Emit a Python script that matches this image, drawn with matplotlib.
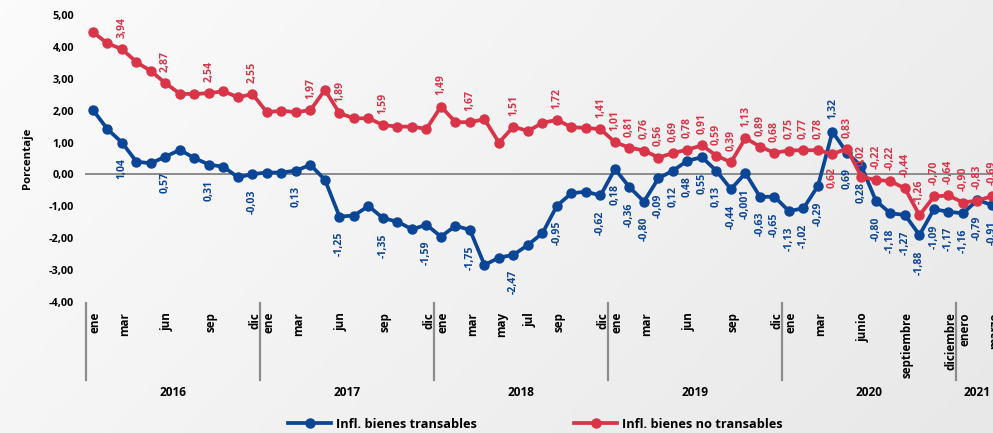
import numpy as np
import matplotlib

matplotlib.use("Agg")
import matplotlib.pyplot as plt
from matplotlib.lines import Line2D
import matplotlib.transforms as mtransforms

plt.rcParams["font.family"] = ["Open Sans", "DejaVu Sans"]

# monthly series, ene 2016 .. mar 2021
transables = [
    2.02, 1.42, 1.00, 0.40, 0.35, 0.56, 0.77, 0.51, 0.31, 0.24, -0.09, 0.01,
    0.06, 0.06, 0.12, 0.30, -0.17, -1.32, -1.29, -0.99, -1.37, -1.48, -1.72, -1.58,
    -1.95, -1.61, -1.74, -2.84, -2.61, -2.52, -2.21, -1.84, -0.98, -0.59, -0.54, -0.66,
    0.17, -0.40, -0.85, -0.12, 0.12, 0.43, 0.54, 0.11, -0.46, 0.04, -0.70, -0.70,
    -1.15, -1.06, -0.36, 1.34, 0.68, 0.25, -0.83, -1.22, -1.27, -1.90, -1.09, -1.17,
    -1.22, -0.80, -0.96,
]
no_transables = [
    4.46, 4.11, 3.93, 3.52, 3.24, 2.86, 2.53, 2.52, 2.55, 2.61, 2.42, 2.52,
    1.95, 2.00, 1.95, 2.02, 2.65, 1.92, 1.76, 1.76, 1.55, 1.50, 1.50, 1.43,
    2.13, 1.64, 1.64, 1.73, 1.00, 1.50, 1.36, 1.62, 1.71, 1.48, 1.46, 1.42,
    1.01, 0.84, 0.75, 0.53, 0.67, 0.78, 0.91, 0.59, 0.38, 1.14, 0.87, 0.68,
    0.75, 0.76, 0.76, 0.64, 0.81, -0.08, -0.17, -0.21, -0.44, -1.28, -0.69, -0.66,
    -0.88, -0.82, -0.68,
]

lbl_transables = [
    "", "", "1,04", "", "", "0,57", "", "", "0,31", "", "", "-0,03",
    "", "", "0,13", "", "", "-1,25", "", "", "-1,35", "", "", "-1,59",
    "", "", "-1,75", "", "", "-2,47", "", "", "-0,95", "", "", "-0,62",
    "0,18", "-0,36", "-0,80", "-0,09", "0,12", "0,48", "0,55", "0,13", "-0,44", "-0,001", "-0,63", "-0,65",
    "-1,13", "-1,02", "-0,29", "1,32", "0,69", "0,28", "-0,80", "-1,18", "-1,27", "-1,88", "-1,09", "-1,17",
    "-1,16", "-0,79", "-0,91",
]
lbl_no_transables = [
    "", "", "3,94", "", "", "2,87", "", "", "2,54", "", "", "2,55",
    "", "", "", "1,97", "", "1,89", "", "", "1,59", "", "", "",
    "1,49", "", "1,67", "", "", "1,51", "", "", "1,72", "", "", "1,41",
    "1,01", "0,81", "0,76", "0,56", "0,69", "0,78", "0,91", "0,59", "0,39", "1,13", "0,89", "0,68",
    "0,75", "0,77", "0,78", "0,62", "0,83", "0,02", "-0,22", "-0,22", "-0,44", "-1,26", "-0,70", "-0,64",
    "-0,90", "-0,83", "-0,69",
]
# points whose label sits on the other side
flip_idx = [51]

tick_idx = [0, 2, 5, 8, 11, 12, 14, 17, 20, 23, 24, 26, 28, 30, 32, 35,
            36, 38, 41, 44, 47, 48, 50, 53, 56, 59, 60, 62]
tick_lbl = ["ene", "mar", "jun", "sep", "dic", "ene", "mar", "jun", "sep", "dic",
            "ene", "mar", "may", "jul", "sep", "dic", "ene", "mar", "jun", "sep", "dic",
            "ene", "mar", "junio", "septiembre", "diciembre", "enero", "marzo"]
years = ["2016", "2017", "2018", "2019", "2020", "2021"]
year_start = [0, 12, 24, 36, 48, 60]
year_len = [12, 12, 12, 12, 12, 3]

BLUE = "#0b4596"
RED = "#da3448"
GRAY = "#8c8c8c"

fig = plt.figure(figsize=(9.93, 4.33), dpi=100)

# soft light-gray gradient background (lighter top-left)
bg = fig.add_axes([0, 0, 1, 1], zorder=-10)
gx, gy = np.meshgrid(np.linspace(0, 1, 200), np.linspace(0, 1, 100))
shade = 0.985 - 0.075 * (0.7 * gx + 0.3 * gy)
bg.imshow(np.dstack([shade] * 3), aspect="auto", extent=[0, 1, 0, 1])
bg.axis("off")

ax = fig.add_axes([85 / 993, 131 / 433, 908 / 993, 287 / 433])
ax.patch.set_alpha(0)
x = np.arange(len(transables))

ax.axhline(0, color=GRAY, lw=1.4, zorder=1)
ax.plot(x, transables, color=BLUE, lw=2.7, marker="o", ms=6.5, zorder=3, clip_on=False)
ax.plot(x, no_transables, color=RED, lw=2.7, marker="o", ms=6.5, zorder=4, clip_on=False)

for i, (v, t) in enumerate(zip(transables, lbl_transables)):
    if not t:
        continue
    up = i in flip_idx
    ax.annotate(t, (i, v), xytext=(0, 9 if up else -11), textcoords="offset points",
                rotation=90, ha="center", va="bottom" if up else "top",
                fontsize=7.6, color=BLUE, fontweight="bold")
for i, (v, t) in enumerate(zip(no_transables, lbl_no_transables)):
    if not t:
        continue
    down = i in flip_idx
    ax.annotate(t, (i, v), xytext=(0, -9 if down else 8), textcoords="offset points",
                rotation=90, ha="center", va="top" if down else "bottom",
                fontsize=7.6, color=RED, fontweight="bold")

ax.set_xlim(-0.55, 62.07)
ax.set_ylim(-4, 5)
ax.set_yticks(range(-4, 6))
ax.set_yticklabels([f"{v:.2f}".replace(".", ",") for v in range(-4, 6)],
                   fontsize=7.8, fontweight="bold")
ax.tick_params(axis="y", length=0, pad=8)
ax.set_xticks([])
for s in ax.spines.values():
    s.set_visible(False)
ax.set_ylabel("Porcentaje", fontsize=8.2, fontweight="bold", labelpad=11)

# two-level category axis
trans = mtransforms.blended_transform_factory(ax.transData, ax.transAxes)
for i, t in zip(tick_idx, tick_lbl):
    ax.text(i + 0.15, -0.035, t, transform=trans, rotation=90, ha="center", va="top",
            fontsize=8.4, fontweight="bold", clip_on=False)
for s, n, y in zip(year_start, year_len, years):
    ax.add_line(Line2D([s - 0.5, s - 0.5], [-0.003, -0.272], transform=trans,
                       color=GRAY, lw=1.6, clip_on=False))
    ax.text(s + (n - 1) / 2, -0.314, y, transform=trans, ha="center", va="center",
            fontsize=8.6, fontweight="bold", clip_on=False)

handles = [
    Line2D([], [], color=BLUE, lw=2.7, marker="o", ms=6.5),
    Line2D([], [], color=RED, lw=2.7, marker="o", ms=6.5),
]
fig.legend(handles, ["Infl. bienes transables", "Infl. bienes no transables"],
           loc="center left", bbox_to_anchor=(288 / 993, 9 / 433), ncol=2, frameon=False,
           prop={"size": 9.2, "weight": "bold"}, handlelength=3.4, handletextpad=0.35,
           columnspacing=7.6, borderpad=0, borderaxespad=0, numpoints=1)

fig.savefig("out.png", dpi=100)
